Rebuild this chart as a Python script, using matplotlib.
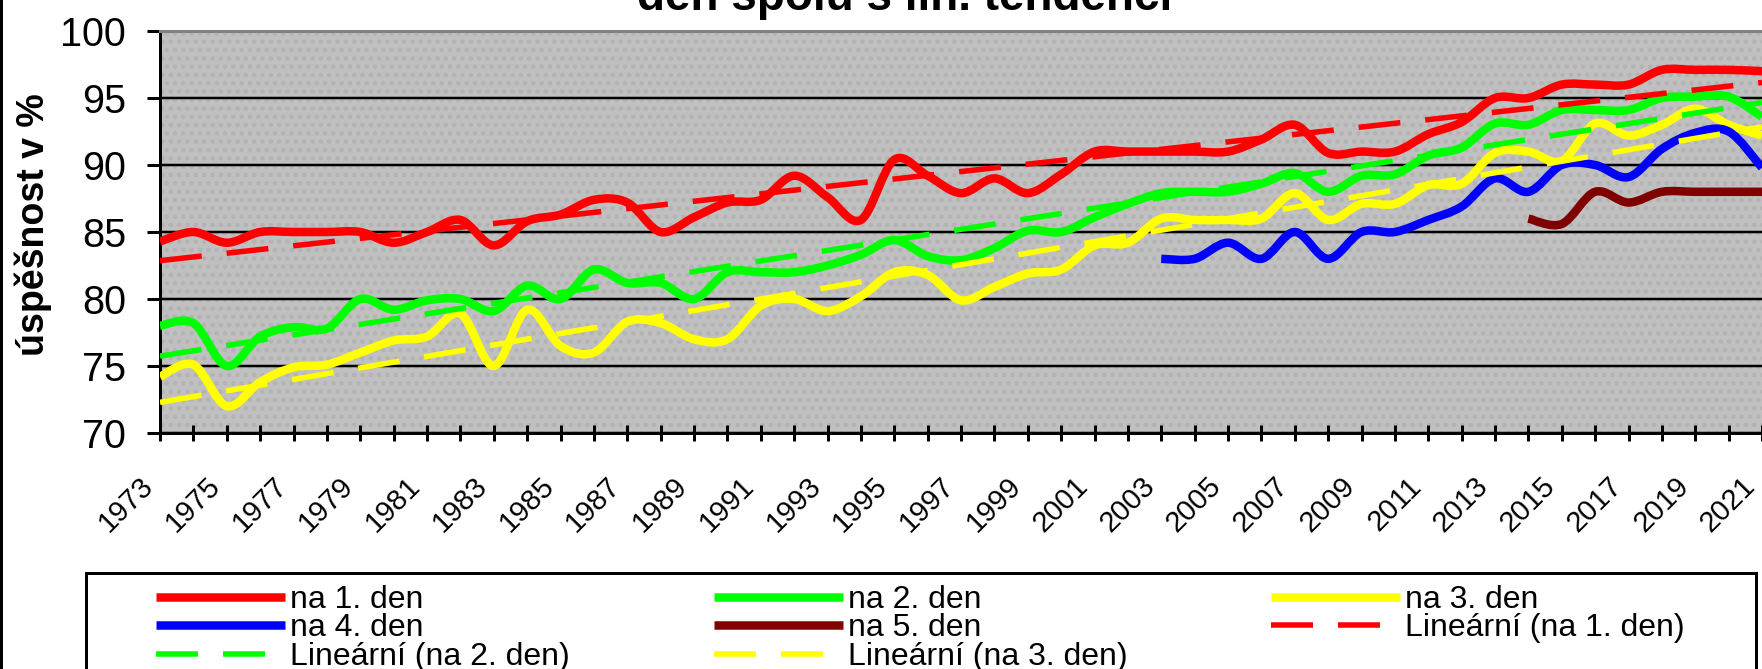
import numpy as np
import matplotlib
matplotlib.use('Agg')
import matplotlib.pyplot as plt
from matplotlib.path import Path
from matplotlib.patches import PathPatch, Rectangle
from matplotlib.lines import Line2D
from matplotlib.transforms import ScaledTranslation

plt.rcParams['font.family'] = ['Liberation Sans', 'DejaVu Sans']
plt.rcParams['hatch.linewidth'] = 2.0

# ── data: success rate (%) per year ─────────────────────────────────────────
years = list(range(1973, 2022))
day1 = [84.3, 85.0, 84.2, 85.0, 85.0, 85.0, 85.0, 84.2, 85.0, 85.9,
        84.0, 85.8, 86.3, 87.4, 87.2, 85.0, 86.1, 87.2, 87.4, 89.2,
        87.6, 85.9, 90.4, 89.2, 87.9, 89.0, 87.9, 89.3, 91.0, 91.0,
        91.0, 91.0, 91.0, 91.9, 93.0, 90.9, 91.0, 91.0, 92.3, 93.2,
        95.0, 95.0, 96.0, 96.0, 96.0, 97.1, 97.1, 97.1, 97.0]
day2 = [78.0, 78.2, 75.0, 77.2, 77.9, 77.8, 80.0, 79.2, 79.9, 80.0,
        79.1, 81.0, 80.0, 82.2, 81.2, 81.2, 80.0, 82.0, 82.0, 82.0,
        82.5, 83.3, 84.4, 83.2, 82.9, 83.8, 85.1, 85.0, 86.1, 87.1,
        87.9, 88.0, 88.0, 88.6, 89.4, 88.0, 89.2, 89.3, 90.7, 91.3,
        93.1, 93.0, 94.1, 94.1, 94.1, 95.0, 95.1, 95.1, 93.6]
day3 = [74.2, 75.1, 72.0, 73.8, 74.9, 75.1, 76.0, 76.9, 77.2, 78.9,
        75.0, 79.2, 76.5, 76.0, 78.3, 78.2, 77.0, 77.0, 79.5, 80.0,
        79.1, 80.2, 82.0, 81.8, 79.9, 80.9, 81.9, 82.2, 84.0, 84.2,
        86.0, 85.9, 85.9, 86.0, 87.9, 85.9, 87.1, 87.1, 88.5, 88.6,
        90.9, 91.0, 90.3, 93.1, 92.2, 93.0, 94.2, 93.0, 92.2]
years4 = list(range(2003, 2022))
day4 = [83.0, 83.0, 84.2, 83.0, 85.0, 83.0, 85.0, 85.0, 85.9, 86.9,
        89.0, 88.0, 90.0, 90.0, 89.1, 91.2, 92.4, 92.5, 89.8]
years5 = list(range(2014, 2022))
day5 = [86.0, 85.6, 88.0, 87.2, 88.0, 88.0, 88.0, 88.0]

label_years = list(range(1973, 2022, 2))
y_ticks = [70, 75, 80, 85, 90, 95, 100]

names = ['na 1. den', 'na 2. den', 'na 3. den', 'na 4. den', 'na 5. den']
colors = ['#ff0000', '#00ff00', '#ffff00', '#0000ff', '#800000']
trend_names = ['Lineární (na 1. den)', 'Lineární (na 2. den)', 'Lineární (na 3. den)']

# ── geometry (pixels) ───────────────────────────────────────────────────────
W, H, DPI = 1762, 669, 100
PX = 72 / DPI
plot_left, plot_top, plot_bottom = 160, 31, 433
year_px = 33.5

SOLID_LW = 8.5 * PX
TREND_LW = 5.5 * PX
TREND_DASH = (42 * PX / TREND_LW, 25 * PX / TREND_LW)


def smooth_path(x, y):
    """Bezier path through the points, Excel-style smoothed line."""
    pts = np.column_stack([x, y]).astype(float)
    n = len(pts)
    verts = [pts[0]]
    codes = [Path.MOVETO]
    for i in range(n - 1):
        p0 = pts[i - 1] if i > 0 else pts[i]
        p1, p2 = pts[i], pts[i + 1]
        p3 = pts[i + 2] if i + 2 < n else pts[i + 1]
        verts += [p1 + (p2 - p0) / 6, p2 - (p3 - p1) / 6, p2]
        codes += [Path.CURVE4] * 3
    return Path(verts, codes)


fig = plt.figure(figsize=(W / DPI, H / DPI), dpi=DPI, facecolor='white')
ax = fig.add_axes([plot_left / W, (H - plot_bottom) / H,
                   (W - plot_left) / W, (plot_bottom - plot_top) / H])

# plot area: silver with a faint dot pattern
ax.set_facecolor('#c0c0c0')
ax.patch.set_hatch('..')
ax.patch.set_edgecolor('#b3b3b3')
ax.patch.set_linewidth(0)
try:
    ax.patch.set_hatchcolor('#b3b3b3')
except AttributeError:
    pass

ax.set_xlim(years[0], years[0] + (W - plot_left) / year_px)
ax.set_ylim(70, 100)

# series
all_series = [(years, day1), (years, day2), (years, day3),
              (years4, day4), (years5, day5)]
for (xs, ys), c in zip(all_series, colors):
    ax.add_patch(PathPatch(smooth_path(xs, ys), facecolor='none', edgecolor=c,
                           lw=SOLID_LW, capstyle='butt', joinstyle='round',
                           zorder=3))

# linear trends for the first three days
for (xs, ys), c in zip(all_series[:3], colors[:3]):
    coef = np.polyfit(xs, ys, 1)
    ax.plot(xs, np.polyval(coef, xs), color=c, lw=TREND_LW,
            dashes=TREND_DASH, dash_capstyle='butt', zorder=4)

# axes styling
for side in ('left', 'bottom'):
    ax.spines[side].set_color('black')
    ax.spines[side].set_linewidth(3 * PX)
ax.spines['top'].set_color('#808080')
ax.spines['top'].set_linewidth(3 * PX)
ax.spines['right'].set_visible(False)

ax.set_yticks(y_ticks)
ax.grid(axis='y', color='black', lw=2.5 * PX)
ax.set_axisbelow(True)
ax.tick_params(axis='y', direction='out', length=13 * PX, width=3 * PX,
               pad=21 * PX, labelsize=28.5)

ax.set_xticks(years)
ax.set_xticklabels([str(y) if y in label_years else '' for y in years],
                   rotation=45, ha='right', va='center', rotation_mode='anchor')
ax.tick_params(axis='x', direction='inout', length=16 * PX, width=3 * PX,
               pad=49 * PX - 8 * PX, labelsize=21)
shift = ScaledTranslation(-11 / DPI, 0, fig.dpi_scale_trans)
for lbl in ax.get_xticklabels():
    lbl.set_transform(lbl.get_transform() + shift)

# axis title and chart title (upper line lies above the visible area)
fig.text(33 / W, 1 - 225 / H, 'úspěšnost v %', rotation=90, ha='center',
         va='center', fontsize=27, fontweight='bold')
fig.text(905 / W, 1 - 10 / H, 'den spolu s lin. tendencí', ha='center',
         va='baseline', fontsize=33, fontweight='bold')

# chart border on the left
fig.add_artist(Line2D([1 / W, 1 / W], [0, 1], color='black', lw=3 * PX,
                      transform=fig.transFigure))

# legend
fig.add_artist(Rectangle((86 / W, -20 / H), (1756 - 86) / W, (H - 573 + 20) / H,
                         transform=fig.transFigure, facecolor='white',
                         edgecolor='black', lw=3 * PX, zorder=1))
solid = [Line2D([], [], color=c, lw=SOLID_LW, solid_capstyle='butt') for c in colors]
dashed = [Line2D([], [], color=c, lw=TREND_LW, dashes=TREND_DASH,
                 dash_capstyle='butt') for c in colors[:3]]
handles = [solid[0], solid[3], dashed[1], solid[1], solid[4], dashed[2],
           solid[2], dashed[0]]
labels = [names[0], names[3], trend_names[1], names[1], names[4], trend_names[2],
          names[2], trend_names[0]]
fs = 23
fs_px = fs / PX
leg = fig.legend(handles, labels, ncol=3, loc='upper left',
                 bbox_to_anchor=(156 / W, 1 - 585 / H), frameon=False,
                 fontsize=fs, handlelength=129 / fs_px, handletextpad=5 / fs_px,
                 columnspacing=144 / fs_px, labelspacing=-0.05,
                 borderpad=0, borderaxespad=0)
leg.set_zorder(2)

fig.savefig('out.png', dpi=DPI, facecolor='white')
